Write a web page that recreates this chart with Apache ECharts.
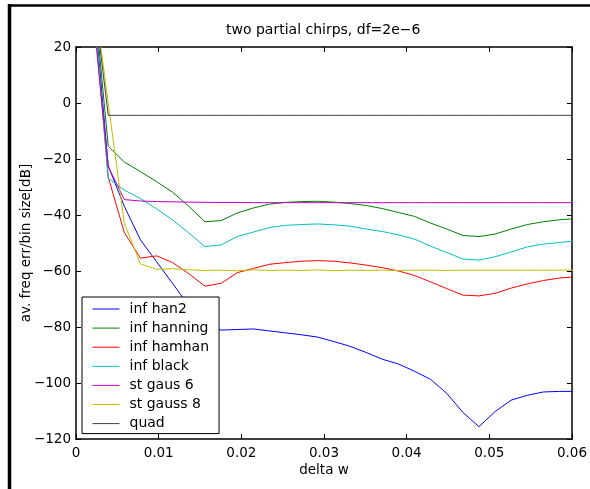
<!DOCTYPE html>
<html>
<head>
<meta charset="utf-8">
<script src="https://cdn.jsdelivr.net/npm/echarts@6/dist/echarts.min.js"></script>
<style>
  html, body { margin: 0; padding: 0; background: #fff; }
  #chart { width: 590px; height: 489px; }
</style>
</head>
<body>
<div id="chart"></div>
<script>
// ---- data ----
const deltaW = [0.00195, 0.0039, 0.00585, 0.0078, 0.00975, 0.0117, 0.01365, 0.0156, 0.01755, 0.0195,
  0.02145, 0.0234, 0.02535, 0.0273, 0.02925, 0.0312, 0.03315, 0.0351, 0.03705, 0.039,
  0.04095, 0.0429, 0.04485, 0.0468, 0.04875, 0.0507, 0.05265, 0.0546, 0.05655, 0.0585, 0.06045];

const seriesNames = ['inf han2', 'inf hanning', 'inf hamhan', 'inf black', 'st gaus 6', 'st gauss 8', 'quad'];

const infHan2 = [43.7, -22.5, -36.9, -48.9, -56.7, -64.5, -72.4, -79.5, -81.1, -80.9,
  -80.7, -81.4, -82.1, -82.8, -83.6, -85.2, -86.9, -89.1, -91.5, -93.2,
  -95.8, -98.7, -103.7, -110.5, -115.6, -110.2, -106.1, -104.4, -103.2, -103.0, -103.0];

const infHanning = [45.6, -15.4, -21.1, -24.5, -28.1, -31.9, -36.9, -42.4, -42.0, -39.3,
  -37.5, -36.1, -35.5, -35.2, -35.1, -35.4, -35.9, -36.6, -37.7, -39.1,
  -40.5, -42.9, -45.0, -47.3, -47.7, -46.8, -45.0, -43.4, -42.4, -41.7, -41.3];

const infHamhan = [39.6, -26.5, -46.3, -55.4, -54.6, -57.0, -61.0, -65.4, -64.4, -60.6,
  -59.1, -57.6, -57.0, -56.5, -56.3, -56.5, -57.1, -57.9, -58.8, -60.0,
  -61.6, -63.9, -66.3, -68.6, -68.9, -68.0, -66.1, -64.6, -63.4, -62.5, -62.1];

const infBlack = [42.8, -26.9, -31.1, -34.1, -37.8, -41.8, -46.4, -51.3, -50.7, -47.7,
  -46.1, -44.5, -43.7, -43.4, -43.2, -43.5, -44.0, -45.0, -45.9, -47.1,
  -48.6, -51.1, -53.4, -55.7, -56.1, -54.9, -53.2, -51.4, -50.4, -49.8, -49.3];

const stGaus6 = [35.4, -22.7, -34.5, -35.0, -35.2, -35.3, -35.4, -35.5, -35.5, -35.5,
  -35.6, -35.6, -35.6, -35.6, -35.6, -35.6, -35.6, -35.6, -35.6, -35.6,
  -35.6, -35.6, -35.6, -35.6, -35.6, -35.6, -35.6, -35.6, -35.6, -35.6, -35.6];

const stGauss8 = [43.8, 0.0, -43.0, -57.5, -59.4, -59.2, -59.6, -59.8, -59.7, -59.9,
  -59.6, -59.8, -59.7, -59.8, -59.6, -59.9, -59.7, -59.8, -59.7, -59.8,
  -59.7, -59.7, -59.8, -59.7, -59.7, -59.7, -59.7, -59.7, -59.7, -59.7, -59.7];

const quad = [42.7, -4.4, -4.4, -4.4, -4.4, -4.4, -4.4, -4.4, -4.4, -4.4,
  -4.4, -4.4, -4.4, -4.4, -4.4, -4.4, -4.4, -4.4, -4.4, -4.4,
  -4.4, -4.4, -4.4, -4.4, -4.4, -4.4, -4.4, -4.4, -4.4, -4.4, -4.4];

const allValues = [infHan2, infHanning, infHamhan, infBlack, stGaus6, stGauss8, quad];
const colors = ['#0000ff', '#008000', '#ff0000', '#00bfbf', '#bf00bf', '#bfbf00', '#404040'];

const xTicks = { min: 0, max: 0.06, interval: 0.01 };
const yTicks = { min: -120, max: 20, interval: 20 };
// --------------------------------------

const FONT = 'DejaVu Sans';
const chart = echarts.init(document.getElementById('chart'), null, { renderer: 'canvas' });

function baseAxis(extra) {
  return Object.assign({
    type: 'value',
    nameMoveOverlap: false,
    axisLine: { show: true, onZero: false, lineStyle: { color: '#000', width: 1.5 } },
    axisTick: { show: true, inside: true, length: 5, lineStyle: { color: '#000', width: 1 } },
    splitLine: { show: false },
  }, extra);
}

const option = {
  animation: false,
  backgroundColor: '#fff',
  color: colors,
  title: {
    text: 'two partial chirps, df=2e\u22126',
    left: 226, top: 23, padding: 0,
    textStyle: { fontFamily: FONT, fontSize: 14, fontWeight: 'normal', color: '#000' }
  },
  grid: { left: 76, right: 16, top: 47, bottom: 50, containLabel: false },
  legend: {
    orient: 'vertical', left: 82, top: 297,
    padding: [5, 10, 3, 10],
    itemWidth: 27, itemHeight: 14, itemGap: 5.1,
    backgroundColor: '#fff', borderColor: '#000', borderWidth: 1,
    itemStyle: { opacity: 0 },
    lineStyle: { width: 1 },
    textStyle: { fontFamily: FONT, fontSize: 14, color: '#000', padding: [0, 0, 0, 5] },
    data: seriesNames
  },
  xAxis: [
    baseAxis({
      position: 'bottom', min: xTicks.min, max: xTicks.max, interval: xTicks.interval,
      axisLabel: { color: '#000', fontFamily: FONT, fontSize: 13.5, margin: 7,
        formatter: v => (Math.abs(v) < 1e-12 ? '0' : (+v.toFixed(4)).toString()) },
      name: 'delta w', nameLocation: 'middle', nameGap: 24,
      nameTextStyle: { fontFamily: FONT, fontSize: 13.5, color: '#000' }
    }),
    baseAxis({
      position: 'top', min: xTicks.min, max: xTicks.max, interval: xTicks.interval,
      axisLabel: { show: false }
    })
  ],
  yAxis: [
    baseAxis({
      position: 'left', min: yTicks.min, max: yTicks.max, interval: yTicks.interval,
      axisLabel: { color: '#000', fontFamily: FONT, fontSize: 13.5, margin: 5,
        formatter: v => String(v).replace('-', '\u2212') },
      name: 'av. freq err/bin size[dB]', nameLocation: 'middle', nameGap: 43,
      nameTextStyle: { fontFamily: FONT, fontSize: 13.5, color: '#000' }
    }),
    baseAxis({
      position: 'right', min: yTicks.min, max: yTicks.max, interval: yTicks.interval,
      axisLabel: { show: false }
    })
  ],
  graphic: [
    { type: 'line', silent: true, z: 100,
      shape: { x1: 9.5, y1: 4, x2: 9.5, y2: 489 },
      style: { stroke: '#000', lineWidth: 3.5 } },
    { type: 'line', silent: true, z: 100,
      shape: { x1: 8, y1: 5.5, x2: 590, y2: 5.5 },
      style: { stroke: '#000', lineWidth: 2.5 } }
  ],
  series: seriesNames.map((name, i) => ({
    name: name,
    type: 'line',
    xAxisIndex: 0, yAxisIndex: 0,
    symbol: 'none',
    clip: true,
    lineStyle: { width: 1, color: colors[i] },
    itemStyle: { color: colors[i] },
    data: deltaW.map((x, j) => [x, allValues[i][j]])
  }))
};

chart.setOption(option);
</script>
</body>
</html>
